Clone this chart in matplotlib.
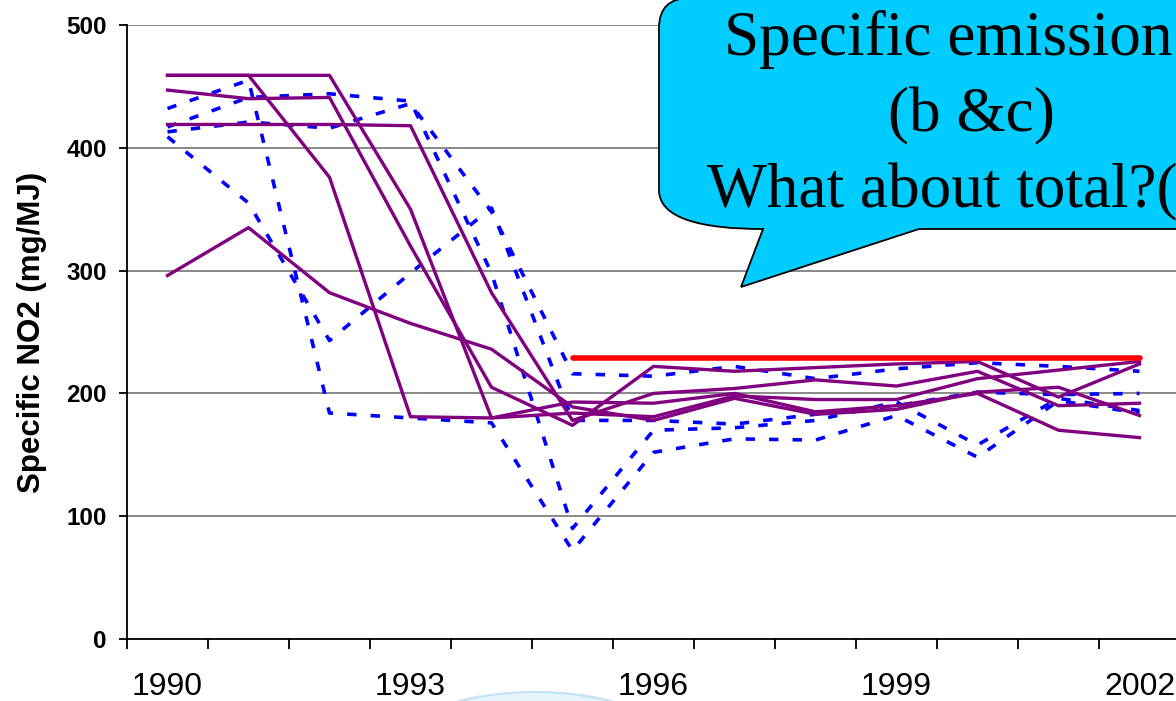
import numpy as np
import matplotlib.pyplot as plt
from matplotlib.path import Path
from matplotlib.patches import PathPatch, Ellipse

# fonts (Arial / Times look-alikes)
plt.rcParams['font.family'] = 'Liberation Sans'

# data
years = ['1990', '1991', '1992', '1993', '1994', '1995', '1996',
         '1997', '1998', '1999', '2000', '2001', '2002']

# solid purple series
purple_1 = [459, 459, 376, 181, 180, 184, 181, 198, 195, 195, 212, 219, 226]
purple_2 = [459, 459, 459, 350, 180, 193, 192, 200, 185, 190, 200, 170, 164]
purple_3 = [447, 440, 441, 320, 205, 174, 222, 218, 221, 224, 226, 197, 224]
purple_4 = [419, 419, 419, 418, 282, 178, 200, 204, 211, 206, 218, 190, 192]
purple_5 = [296, 335, 282, 257, 236, 189, 178, 196, 183, 187, 201, 205, 182]

# dashed blue series
blue_1 = [432, 455, 184, 180, 176, 72, 152, 163, 162, 182, 148, 194, 184]
blue_2 = [417, 441, 444, 438, 298, 90, 170, 172, 178, 193, 158, 196, 186]
blue_3 = [413, 421, 416, 436, 348, 216, 214, 222, 212, 220, 225, 222, 218]
blue_4 = [409, 355, 243, 298, 351, 178, 178, 175, 183, 190, 201, 199, 200]

# red limit line (starts in 1995)
nan = np.nan
red_limit = [nan, nan, nan, nan, nan, 229, 229, 229, 229, 229, 229, 229, 229]

label_years = ['1990', '1993', '1996', '1999', '2002']

W, H = 1176, 701
fig = plt.figure(figsize=(W / 100, H / 100), dpi=100)
ax = fig.add_axes([127 / W, (H - 639) / H, (1180 - 127) / W, (639 - 25) / H])

x = np.arange(len(years))

# dashed blue lines
for s in [blue_1, blue_2, blue_3, blue_4]:
    ax.plot(x, s, color='#0000FF', lw=2.6, dashes=(2.6, 3.9), dash_capstyle='butt')

# solid purple lines
for s in [purple_1, purple_2, purple_3, purple_4, purple_5]:
    ax.plot(x, s, color='#800080', lw=2.4)

# red line
ax.plot(x, red_limit, color='#FF0000', lw=4, solid_capstyle='round')

# axes ranges
ax.set_xlim(-0.5, len(years) - 0.5)
ax.set_ylim(0, 500)

# y axis
ax.set_yticks(range(0, 501, 100))
ax.set_yticklabels([str(v) for v in range(0, 501, 100)], fontweight='bold')
ax.tick_params(axis='y', length=5.8, width=1.3, pad=8.6, labelsize=17.5)
ax.set_ylabel('Specific NO2 (mg/MJ)', fontsize=22.5, fontweight='bold', va='center')
ax.yaxis.set_label_coords(-0.090, 0.5)

# x axis: tick marks between categories, labels every 3 years
ax.set_xticks(np.arange(-0.5, len(years), 1))
ax.set_xticklabels([])
ax.tick_params(axis='x', which='major', length=7.2, width=1.3)
ax.set_xticks([years.index(y) for y in label_years], minor=True)
ax.set_xticklabels(label_years, minor=True)
ax.tick_params(axis='x', which='minor', length=0, pad=23.5, labelsize=23)

# grid and spines
ax.yaxis.grid(True, color='#808080', lw=1.3)
ax.set_axisbelow(True)
ax.spines['top'].set_visible(False)
ax.spines['right'].set_visible(False)
ax.spines['left'].set_linewidth(1.3)
ax.spines['bottom'].set_linewidth(1.3)


def px(xp, yp):
    # picture pixels -> figure fraction
    return (xp / W, 1 - yp / H)


# speech bubble
verts = [(1185, -2), (690, -2), (659, -2), (659, 28), (659, 190),
         (659, 218), (700, 229), (763, 229), (741, 287), (919, 229),
         (1185, 229), (1185, -2)]
codes = [Path.MOVETO, Path.LINETO, Path.CURVE3, Path.CURVE3, Path.LINETO,
         Path.CURVE4, Path.CURVE4, Path.CURVE4, Path.LINETO, Path.LINETO,
         Path.LINETO, Path.CLOSEPOLY]
bubble = PathPatch(Path([px(*v) for v in verts], codes), transform=fig.transFigure,
                   facecolor='#00CCFF', edgecolor='black', lw=1.3, zorder=5)
fig.add_artist(bubble)

serif = dict(fontsize=45.5, family='Liberation Serif', va='baseline', ha='left', zorder=6)
fig.text(*px(724, 55), 'Specific emission', **serif)
fig.text(*px(888, 131), '(b &c)', **serif)
fig.text(*px(707, 207), 'What about total?(', **serif)

# faint glow from the slide background
glow = Ellipse(px(535, 740), 260 / W, 96 / H, transform=fig.transFigure,
               facecolor='#d9eef9', edgecolor='#9fd3ef', lw=1.5, alpha=0.6, zorder=-1)
fig.add_artist(glow)

fig.savefig('out.png', dpi=100)
